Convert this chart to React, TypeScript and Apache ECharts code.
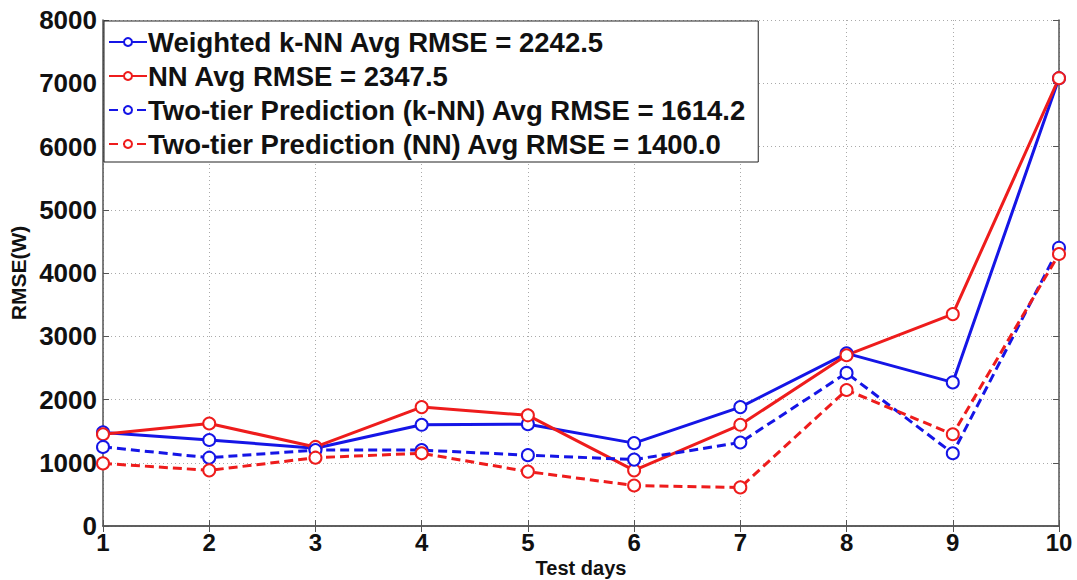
import React, { useEffect, useRef } from "react";
import * as echarts from "echarts";

const days = [1, 2, 3, 4, 5, 6, 7, 8, 9, 10];
const weightedKnn = [1480, 1360, 1230, 1600, 1610, 1310, 1880, 2730, 2270, 7080];
const nn = [1450, 1620, 1250, 1880, 1750, 880, 1600, 2700, 3350, 7080];
const twoTierKnn = [1250, 1080, 1200, 1200, 1120, 1050, 1320, 2420, 1150, 4400];
const twoTierNn = [990, 880, 1080, 1150, 860, 640, 610, 2150, 1450, 4300];
const seriesNames = [
  "Weighted k-NN Avg RMSE = 2242.5",
  "NN Avg RMSE = 2347.5",
  "Two-tier Prediction (k-NN) Avg RMSE = 1614.2",
  "Two-tier Prediction (NN) Avg RMSE = 1400.0",
];

const FONT = "Liberation Sans, Arial, sans-serif";

export default function App() {
  const ref = useRef<HTMLDivElement>(null);
  useEffect(() => {
    const chart = echarts.init(ref.current!, null, { renderer: "svg" });
    const mk = (name: string, vals: number[], color: string, dashed: boolean) => ({
      name,
      type: "line",
      data: days.map((d, i) => [d, vals[i]]),
      symbol: "emptyCircle",
      symbolSize: 12,
      lineStyle: { color, width: 3, type: dashed ? [9, 5] : "solid" },
      itemStyle: { color, borderColor: color, borderWidth: 2 },
    });
    const tickStyle = { inside: true, length: 6, lineStyle: { color: "#555" } };
    const fmt = (v: number) => String(v);
    chart.setOption({
      animation: false,
      backgroundColor: "#fff",
      grid: { left: 103, right: 18, top: 20, bottom: 54, show: false, containLabel: false, outerBoundsMode: "none" },
      legend: {
        left: 104,
        top: 21,
        orient: "vertical",
        backgroundColor: "#fff",
        borderColor: "#222",
        borderWidth: 1,
        padding: [7, 12, 4, 4],
        itemGap: 6,
        itemWidth: 38,
        itemHeight: 10,
        textStyle: { fontFamily: FONT, fontWeight: "bold", fontSize: 27.5, color: "#111", padding: [0, 0, 0, -4] },
        data: seriesNames,
      },
      xAxis: [
        {
          type: "value",
          min: 1,
          max: 10,
          interval: 1,
          name: "Test days",
          nameLocation: "middle",
          nameGap: 32,
          nameMoveOverlap: false,
          nameTextStyle: { fontFamily: FONT, fontWeight: "bold", fontSize: 20, color: "#111" },
          axisLine: { lineStyle: { color: "#555", width: 1.5 } },
          axisTick: tickStyle,
          axisLabel: { fontFamily: FONT, fontWeight: "bold", fontSize: 24, color: "#111", margin: 4, formatter: fmt },
          splitLine: { show: true, lineStyle: { color: "#aaa", type: [1, 3], width: 1 } },
        },
        {
          type: "value",
          position: "top",
          min: 1,
          max: 10,
          interval: 1,
          axisLine: { show: true, lineStyle: { color: "#555", width: 1.5 } },
          axisTick: tickStyle,
          axisLabel: { show: false },
          splitLine: { show: false },
        },
      ],
      yAxis: [
        {
          type: "value",
          min: 0,
          max: 8000,
          interval: 1000,
          name: "RMSE(W)",
          nameLocation: "middle",
          nameGap: 74,
          nameMoveOverlap: false,
          nameRotate: 90,
          nameTextStyle: { fontFamily: FONT, fontWeight: "bold", fontSize: 21, color: "#111" },
          axisLine: { show: true, lineStyle: { color: "#555", width: 1.5 } },
          axisTick: tickStyle,
          axisLabel: { fontFamily: FONT, fontWeight: "bold", fontSize: 26, color: "#111", margin: 6, formatter: fmt },
          splitLine: { show: true, lineStyle: { color: "#aaa", type: [1, 3], width: 1 } },
        },
        {
          type: "value",
          position: "right",
          min: 0,
          max: 8000,
          interval: 1000,
          axisLine: { show: true, lineStyle: { color: "#555", width: 1.5 } },
          axisTick: tickStyle,
          axisLabel: { show: false },
          splitLine: { show: false },
        },
      ],
      series: [
        mk(seriesNames[0], weightedKnn, "#1515e6", false),
        mk(seriesNames[1], nn, "#ee1c1c", false),
        mk(seriesNames[2], twoTierKnn, "#1515e6", true),
        mk(seriesNames[3], twoTierNn, "#ee1c1c", true),
      ],
    });
    return () => chart.dispose();
  }, []);
  return (
    <div
      ref={ref}
      style={{ position: "fixed", left: 0, top: 0, width: 1077, height: 580, background: "#fff" }}
    />
  );
}
